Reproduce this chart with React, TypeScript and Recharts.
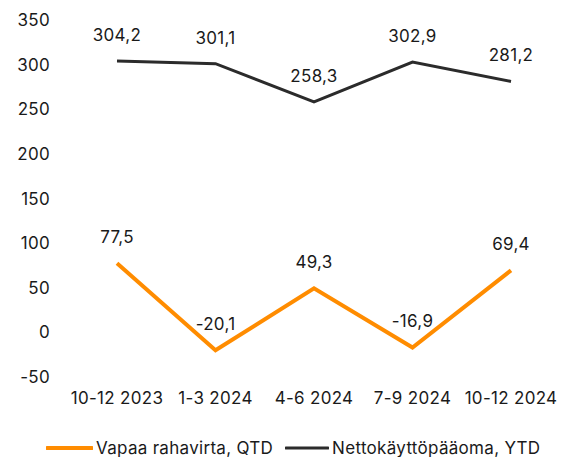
import React from "react";
import { LineChart, Line, XAxis, YAxis, LabelList } from "recharts";

const categories = ["10-12 2023", "1-3 2024", "4-6 2024", "7-9 2024", "10-12 2024"];
const vapaaRahavirta = [77.5, -20.1, 49.3, -16.9, 69.4];
const nettokayttopaaoma = [304.2, 301.1, 258.3, 302.9, 281.2];
const yTicks = [-50, 0, 50, 100, 150, 200, 250, 300, 350];

const seriesNames = ["Vapaa rahavirta, QTD", "Nettokäyttöpääoma, YTD"];
const colors = ["#FF8C00", "#2B2B2B"];

const data = categories.map((c, i) => ({
  name: c,
  vapaa: vapaaRahavirta[i],
  netto: nettokayttopaaoma[i],
}));

const FONT = "Inter, 'Noto Sans', sans-serif";
const FS = 17;
const LS = 0.3;
const textStyle = { fill: "#1a1a1a", fontSize: FS, fontFamily: FONT, letterSpacing: LS };
const fmt = (v: any) => String(v).replace(".", ",");

const CustomLegend = () => (
  <div style={{ display: "flex", justifyContent: "flex-start", alignItems: "center", paddingLeft: 46, fontFamily: FONT, fontSize: FS, letterSpacing: LS, color: "#1a1a1a", lineHeight: "24px" }}>
    {seriesNames.map((n, i) => (
      <div key={n} style={{ display: "flex", alignItems: "center", marginRight: i === 0 ? 12 : 0 }}>
        <svg width={i === 0 ? 47 : 44} height={6} style={{ marginRight: 3 }}>
          <line x1={1} y1={3} x2={i === 0 ? 46 : 43} y2={3} stroke={colors[i]} strokeWidth={i === 0 ? 4 : 3} strokeLinecap="round" />
        </svg>
        <span>{n}</span>
      </div>
    ))}
  </div>
);

export default function App() {
  return (
    <div style={{ position: "absolute", left: 0, top: 0, background: "#fff" }}>
      <LineChart width={568} height={457} data={data} margin={{ top: 20, right: 8, bottom: 42, left: 0 }}>
        <XAxis
          dataKey="name"
          axisLine={false}
          tickLine={false}
          tickSize={0}
          tickMargin={15}
          height={38}
          padding={{ left: 49, right: 49 }}
          tick={textStyle}
          interval={0}
        />
        <YAxis
          domain={[-50, 350]}
          ticks={yTicks}
          axisLine={false}
          tickLine={false}
          tickSize={0}
          tickMargin={18}
          width={68}
          tick={textStyle}
        />
        <Line
          type="linear"
          dataKey="vapaa"
          name={seriesNames[0]}
          stroke={colors[0]}
          strokeWidth={4}
          dot={false}
          isAnimationActive={false}
        >
          <LabelList dataKey="vapaa" position="top" offset={20} formatter={fmt} style={textStyle} />
        </Line>
        <Line
          type="linear"
          dataKey="netto"
          name={seriesNames[1]}
          stroke={colors[1]}
          strokeWidth={3}
          dot={false}
          isAnimationActive={false}
        >
          <LabelList dataKey="netto" position="top" offset={20} formatter={fmt} style={textStyle} />
        </Line>
        <foreignObject x={0} y={436} width={568} height={24}>
          <CustomLegend />
        </foreignObject>
      </LineChart>
    </div>
  );
}
